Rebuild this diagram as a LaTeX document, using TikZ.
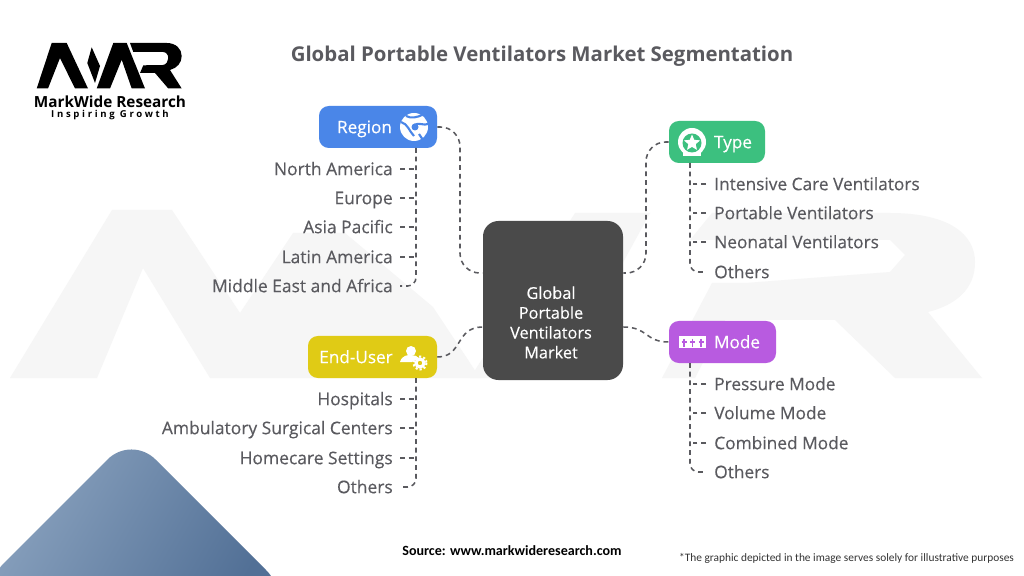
\documentclass[tikz,border=0pt]{standalone}
\usepackage{fontspec}
\setmainfont{Open Sans}
\newfontfamily\medfont[FakeBold=0.3]{Open Sans}
\newfontfamily\logofont[LetterSpace=28]{Open Sans}
\newfontfamily\notefont{Carlito}
\usetikzlibrary{shapes.geometric}
\definecolor{hubgray}{HTML}{4A4A4A}
\definecolor{leafgray}{HTML}{5A5A5F}
\definecolor{regionblue}{HTML}{4A86E8}
\definecolor{typegreen}{HTML}{3CC07F}
\definecolor{usergold}{HTML}{E0CB15}
\definecolor{modepurple}{HTML}{B85BE0}
\definecolor{markgray}{HTML}{F6F6F6}
\definecolor{cornerlight}{RGB}{140,164,192}
\definecolor{cornerdark}{RGB}{82,112,150}
\def\pxu{0.025cm}
\tikzset{
  segbox/.style={draw=none, rounded corners=7pt, minimum height=42*\pxu, inner sep=0pt},
  segtext/.style={text=white, text height=11.8pt, text depth=3pt, font=\medfont\fontsize{12.2}{14}\selectfont, inner sep=0pt},
  leafleft/.style={anchor=east, text=leafgray, text height=11.8pt, text depth=3pt, inner xsep=7*\pxu, inner ysep=0pt, font=\medfont\fontsize{12.4}{14}\selectfont},
  leafright/.style={anchor=west, text=leafgray, text height=11.8pt, text depth=3pt, inner xsep=8*\pxu, inner ysep=0pt, font=\medfont\fontsize{12.3}{14}\selectfont},
  linkdash/.style={draw=leafgray, line width=1.1pt, dash pattern=on 3.4pt off 2.8pt},
}
\begin{document}
\begin{tikzpicture}[x=0.025cm,y=-0.025cm]
  \useasboundingbox (0,0) rectangle (1024,576);
  \fill[white] (0,0) rectangle (1024,576);

  % watermark
  \fill[markgray] (10,378) -- (112,210) -- (172,210) -- (240,313) -- (293,233) -- (345,233)
    -- (433,307) -- (480,378) -- (210,378) -- (143,268) -- (97,378) -- cycle;
  \fill[markgray] (470,378) -- (575,213) -- (650,213) -- (560,378) -- cycle;
  \fill[markgray] (662,378) -- (712,283) -- (745,283) -- (890,272) -- (905,255) -- (890,240)
    -- (690,240) -- (712,213) -- (890,213) .. controls (950,213) and (975,235) .. (975,262)
    .. controls (975,290) and (955,305) .. (928,312) -- (982,378) -- (895,378) -- (835,320)
    -- (725,320) -- (695,378) -- cycle;

  % corner shape
  \begin{scope}
    \clip (0,0) rectangle (1024,576);
    \shade[left color=cornerlight, right color=cornerdark, shading angle=60, rounded corners=24pt]
      (-20,587) -- (131.5,435.5) -- (290,594) -- cycle;
  \end{scope}

  % logo
  \fill[black] (36.7,88.5) -- (51.7,43) -- (66.7,43) -- (88,88.5) -- (75,88.5) -- (60,58) -- (48,88.5) -- cycle;
  \fill[black] (91.7,47.3) -- (100,66) -- (95,83) -- (87.3,63) -- cycle;
  \fill[black] (96.7,88.5) -- (113.3,43) -- (126.7,43) -- (145,88.5) -- (131.7,88.5) -- (121.7,59.7) -- (110,88.5) -- cycle;
  \fill[black] (130,43) -- (166.7,43) .. controls (176,43) and (181.7,49) .. (181.7,56)
    .. controls (181.7,63) and (177,68) .. (170,70) -- (181.7,88.5) -- (168.3,88.5) -- (155,73)
    -- (140,73) -- (143.3,65.3) -- (163,65) .. controls (170,64) and (170,52) .. (163,52) -- (133.3,52) -- cycle;
  \node[font=\bfseries\fontsize{10.9}{12}\selectfont, inner sep=0pt] (brandname) at (110,102) {MarkWide Research};
  \node[font=\logofont\bfseries\fontsize{6.8}{8}\selectfont, inner sep=0pt] (brandline) at (110,115) {Inspiring Growth};

  % title
  \node[font=\bfseries\fontsize{14.5}{18}\selectfont, text=leafgray, inner sep=0pt, text height=11pt, text depth=3pt] (title) at (542,56)
    {Global Portable Ventilators Market Segmentation};

  % hub and segment boxes
  \node[fill=hubgray, rounded corners=11pt, minimum width=140*\pxu, minimum height=159*\pxu, inner sep=0pt] (hub) at (553,300.5) {};
  \node[text=white, align=center, inner sep=0pt, font=\medfont\fontsize{11.6}{14.1}\selectfont] (hublabel) at (551,322.5)
    {Global\\Portable\\Ventilators\\Market};
  \node[segbox, fill=regionblue, minimum width=118*\pxu] (regionbox) at (378,127) {};
  \node[segbox, fill=typegreen, minimum width=96*\pxu] (typebox) at (717,142) {};
  \node[segbox, fill=usergold, minimum width=129*\pxu] (userbox) at (372.5,357) {};
  \node[segbox, fill=modepurple, minimum width=107*\pxu] (modebox) at (722.5,342) {};
  \node[segtext] (regionlabel) at (364.5,127) {Region};
  \node[segtext] (typelabel) at (733,142) {Type};
  \node[segtext] (userlabel) at (356,357) {End-User};
  \node[segtext] (modelabel) at (737,342) {Mode};

  % icons
  \fill[white] (414,127) circle (14);
  \draw[regionblue, line width=1.5pt] (401,122) .. controls (408,124) and (409,131) .. (414,136)
    (406,116) .. controls (411,119) and (418,117) .. (422,115)
    (414,125) .. controls (419,122) and (424,126) .. (428,124)
    (419,134) -- (423,140);
  \fill[regionblue] (415,127) circle (3.5);
  \fill[white] (692,142) circle (14);
  \fill[white] (683,150) rectangle (701,156);
  \fill[typegreen] (692,143) circle (9.5);
  \node[star, star points=5, star point ratio=2.2, fill=white, minimum size=17*\pxu, inner sep=0pt] (typestar) at (692,143) {};
  \fill[white] (411,351) circle (5);
  \fill[white] (400,362) .. controls (402,355) and (408,355) .. (411,355)
    .. controls (414,355) and (417,356) .. (419,358) -- (412,362) -- cycle;
  \draw[white, line width=2.2pt] (420,363) circle (4);
  \draw[white, line width=1.4pt, dash pattern=on 1.5pt off 1.5pt] (420,363) circle (6.5);
  \fill[white] (679,336) rectangle (706,348);
  \foreach \arrowx in {684,692.5,701} {
    \draw[modepurple, line width=1pt] (\arrowx,339) -- (\arrowx,347) (\arrowx-2.5,342) -- (\arrowx+2.5,342);
  }

  % hub links
  \coordinate (hubport1) at (hub.west |- 0,273);
  \coordinate (hubport2) at (hub.east |- 0,273);
  \coordinate (hubport3) at (hub.west |- 0,327);
  \coordinate (hubport4) at (hub.east |- 0,327);
  \draw[linkdash, rounded corners=14pt] (regionbox.east) -- (460,127) -- (460,273) -- (hubport1);
  \draw[linkdash, rounded corners=14pt] (typebox.west) -- (646,142) -- (646,273) -- (hubport2);
  \draw[linkdash] (userbox.east) .. controls (463,357) and (455,327) .. (hubport3);
  \draw[linkdash] (hubport4) .. controls (648,327) and (645,342) .. (modebox.west);

  % region leaves
  \coordinate (regionbus) at (416,148);
  \foreach \leaf/\ypos [count=\i] in {North America/169,Europe/198,Asia Pacific/227,Latin America/257,Middle East and Africa/286} {
    \node[leafleft] (regionleaf\i) at (400,\ypos) {\leaf};
  }
  \foreach \i in {1,2,3,4} {
    \draw[linkdash] (regionleaf\i.east) -- (regionleaf\i.east -| regionbus);
  }
  \draw[linkdash, rounded corners=6pt] (regionbus) |- (regionleaf5.east);

  % type leaves
  \coordinate (typebus) at (690,163);
  \foreach \leaf/\ypos [count=\i] in {Intensive Care Ventilators/184,Portable Ventilators/213,Neonatal Ventilators/242,Others/272} {
    \node[leafright] (typeleaf\i) at (706,\ypos) {\leaf};
  }
  \foreach \i in {1,2,3} {
    \draw[linkdash] (typeleaf\i.west) -- (typeleaf\i.west -| typebus);
  }
  \draw[linkdash, rounded corners=6pt] (typebus) |- (typeleaf4.west);

  % end-user leaves
  \coordinate (userbus) at (416,378);
  \foreach \leaf/\ypos [count=\i] in {Hospitals/399,Ambulatory Surgical Centers/428,Homecare Settings/458,Others/487} {
    \node[leafleft] (userleaf\i) at (400,\ypos) {\leaf};
  }
  \foreach \i in {1,2,3} {
    \draw[linkdash] (userleaf\i.east) -- (userleaf\i.east -| userbus);
  }
  \draw[linkdash, rounded corners=6pt] (userbus) |- (userleaf4.east);

  % mode leaves
  \coordinate (modebus) at (690,363);
  \foreach \leaf/\ypos [count=\i] in {Pressure Mode/384,Volume Mode/413,Combined Mode/443,Others/472} {
    \node[leafright] (modeleaf\i) at (706,\ypos) {\leaf};
  }
  \foreach \i in {1,2,3} {
    \draw[linkdash] (modeleaf\i.west) -- (modeleaf\i.west -| modebus);
  }
  \draw[linkdash, rounded corners=6pt] (modebus) |- (modeleaf4.west);

  % footer
  \node[font=\notefont\bfseries\fontsize{10}{12}\selectfont, inner sep=0pt] (source) at (512,551) {Source: www.markwideresearch.com};
  \node[font=\notefont\fontsize{8.1}{10}\selectfont, text=black!80, inner sep=0pt] (disclaimer) at (846.5,558) {*The graphic depicted in the image serves solely for illustrative purposes};
\end{tikzpicture}
\end{document}
